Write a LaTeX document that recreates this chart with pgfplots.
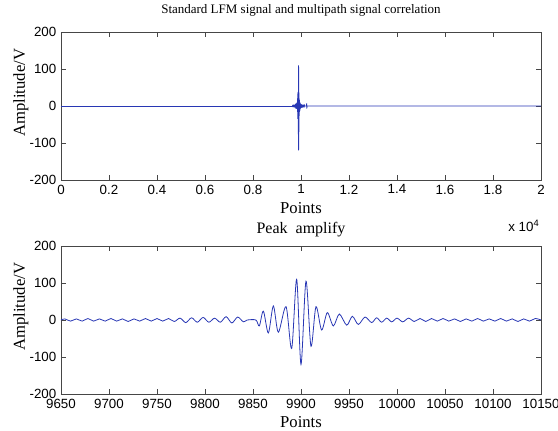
\documentclass[border=0pt]{standalone}
\usepackage{fontspec}
\setmainfont{Liberation Serif}
\setsansfont{Liberation Sans}
\usepackage{pgfplots}
\usepackage{pgfplotstable}
\pgfplotsset{compat=1.18}

\definecolor{mblue}{RGB}{40,55,180}
\definecolor{axgray}{RGB}{70,70,70}

% extrema of the correlation output around the main peak
\pgfplotstableread{
x y
9650 0
9654 3
9660 -3
9666 3
9672 -3
9678 4
9684 -3
9690 3
9696 -3
9702 4
9708 -3
9714 3
9720 -4
9726 3
9732 -3
9738 4
9744 -3
9750 4
9756 -3
9762 4
9768 -4
9774 5
9780 -7
9786 6
9792 -6
9798 7
9804 -6
9810 5
9816 -6
9822 9
9828 -8
9834 8
9840 -5
9844 0
9853 0
9856.6 -16
9860.8 24
9866 -35
9871.2 38
9876.4 -33
9884.4 36
9890.3 -77
9895.5 110
9900 -120
9905.2 105
9910.4 -71
9915.6 36
9921.5 -27
9927.4 20
9933.7 -16
9939.9 16
9947.6 -14
9953.5 10
9959.7 -12
9966.7 8
9973.6 -7
9978.8 6
9984 -6
9989.3 5
9994.5 -5
10000 5
10006 -5
10012 5
10018 -4
10024 4
10030 -4
10036 4
10042 -3
10048 4
10054 -3
10060 3
10066 -4
10072 3
10078 -3
10084 4
10090 -3
10096 3
10102 -3
10108 4
10114 -3
10120 3
10126 -4
10132 3
10138 -3
10144 4
10150 0
}\peakdata

\pgfplotsset{mstyle/.style={
  scale only axis, width=360pt, height=111pt,
  axis line style={axgray}, tick style={axgray, line width=0.5pt},
  tick align=inside, major tick length=4pt,
  ymin=-200, ymax=200, ytick={-200,-100,0,100,200},
  scaled ticks=false,
  /pgf/number format/1000 sep={},
  /pgf/number format/assume math mode=true,
  tick label style={font=\sffamily\fontsize{10}{12}\selectfont},
  label style={font=\fontsize{12.5}{14}\selectfont},
  ylabel={Amplitude/V}, xlabel={Points},
  xlabel style={yshift=1pt},
  ylabel style={xshift=10pt, yshift=-6pt},
}}

\begin{document}
\begin{tikzpicture}
\begin{axis}[mstyle, name=top, at={(0,0)}, anchor=north west,
  xmin=0, xmax=20000,
  xtick={0,2000,...,20000},
  xticklabels={0,0.2,0.4,0.6,0.8,1,1.2,1.4,1.6,1.8,2},
  title={Standard LFM signal and multipath signal correlation},
  title style={font=\fontsize{9.75}{11}\selectfont, yshift=2pt},
]
\addplot[mblue, line width=0.6pt] coordinates {(0,0) (9650,0)};
\addplot[mblue, line width=0.6pt] table[x=x,y=y] {\peakdata};
\addplot[mblue, line width=0.6pt] coordinates {(10150,0) (10230,0) (10236,7) (10242,-7) (10248,0) (20000,0)};
\end{axis}
\node[anchor=north east, font=\sffamily\fontsize{10}{12}\selectfont, inner sep=0pt]
  at (359pt,-141pt) {x 10\textsuperscript{4}};

\begin{axis}[mstyle, name=bot, at={(0,-160.5pt)}, anchor=north west,
  xmin=9650, xmax=10150,
  xtick={9650,9700,...,10150},
  title={Peak\ \ amplify},
  title style={font=\fontsize{12}{14}\selectfont, yshift=-3pt},
]
\addplot[mblue, line width=0.6pt, smooth, tension=0.5] table[x=x,y=y] {\peakdata};
\end{axis}

\pgfresetboundingbox
\path[use as bounding box] (-45.75pt,24pt) rectangle (372.75pt,-298.5pt);
\end{tikzpicture}
\end{document}
